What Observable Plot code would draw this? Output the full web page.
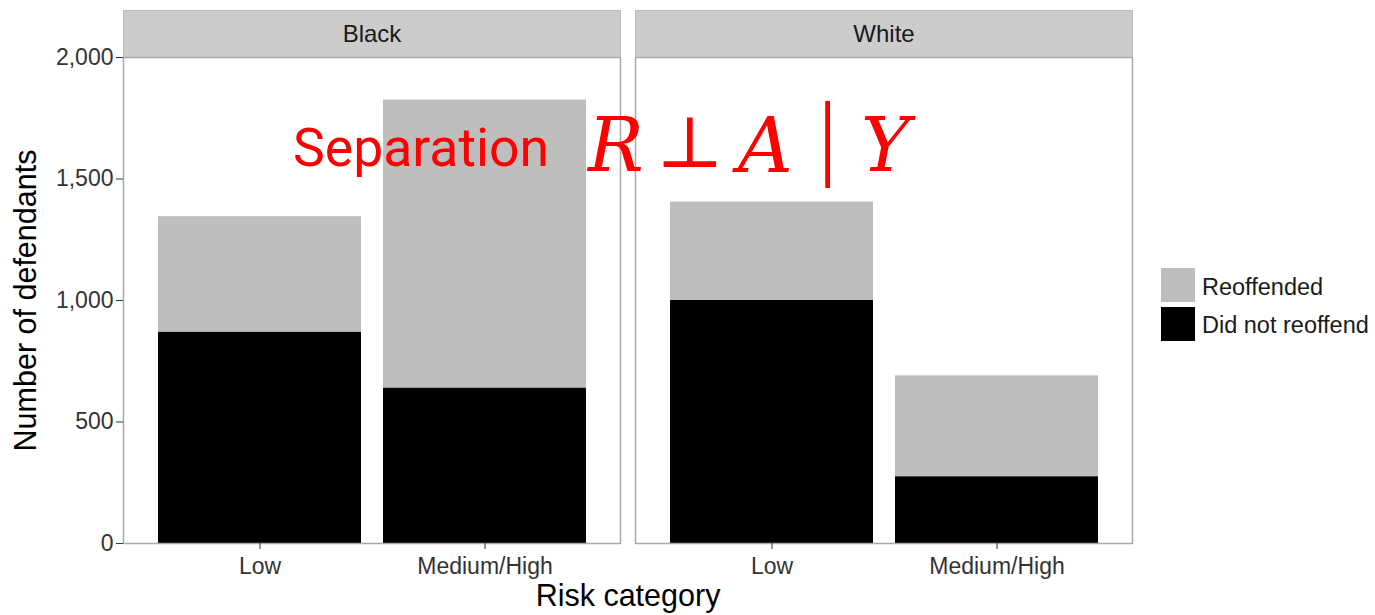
<!DOCTYPE html>
<html><head><meta charset="utf-8">
<script src="https://cdn.jsdelivr.net/npm/d3@7"></script>
<script src="https://cdn.jsdelivr.net/npm/@observablehq/plot@0.6"></script>
<style>
html,body{margin:0;padding:0;background:#fff;}
#wrap{position:relative;width:1375px;height:615px;overflow:hidden;font-family:"Liberation Sans",Arial,sans-serif;}
#chart svg{display:block;}
#chart g[aria-label="y-axis label"] text,#chart g[aria-label="x-axis label"] text{font-size:30.5px;fill:#000;}
.abs{position:absolute;white-space:pre;line-height:1;}
.key{position:absolute;width:34px;height:34px;}
.ltxt{position:absolute;font-size:23.5px;color:#1a1a1a;line-height:1;}
.math{position:absolute;line-height:1;color:#ff0000;font-family:"DejaVu Serif",serif;font-size:74px;white-space:pre;}
</style></head><body>
<div id="wrap">
<div id="chart"></div>
<div class="key" style="left:1161px;top:268px;background:#bebebe"></div>
<div class="ltxt" style="left:1202px;top:276px">Reoffended</div>
<div class="key" style="left:1161px;top:307px;background:#000"></div>
<div class="ltxt" style="left:1202px;top:314px">Did not reoffend</div>
<div class="abs" style="left:293px;top:121px;font-family:Roboto,sans-serif;font-size:53.5px;color:#ff0000">Separation</div>
<div class="math" style="left:588px;top:108px;font-style:italic">R</div>
<div class="math" style="left:656px;top:106px;font-size:72px">⊥</div>
<div class="math" style="left:738px;top:108px;font-style:italic;font-size:76px">A</div>
<div class="math" style="left:818px;top:88px;font-family:'Liberation Serif',serif;font-size:96px">|</div>
<div class="math" style="left:861px;top:108px;font-style:italic">Y</div>
</div>
<script>
const races = ["Black", "White"];
const riskCategories = ["Low", "Medium/High"];
const outcomes = ["Did not reoffend", "Reoffended"];
const outcomeColors = ["#000000", "#bebebe"];
const blackDidNotReoffend = [870, 640];
const blackReoffended = [475, 1185];
const whiteDidNotReoffend = [1000, 275];
const whiteReoffended = [405, 415];
const yTicks = [0, 500, 1000, 1500, 2000];

const rows = [];
riskCategories.forEach((risk, i) => {
  rows.push({race: "Black", risk, outcome: outcomes[0], count: blackDidNotReoffend[i]});
  rows.push({race: "Black", risk, outcome: outcomes[1], count: blackReoffended[i]});
  rows.push({race: "White", risk, outcome: outcomes[0], count: whiteDidNotReoffend[i]});
  rows.push({race: "White", risk, outcome: outcomes[1], count: whiteReoffended[i]});
});

const H = 615, MT = 57, MB = 72;
const chart = Plot.plot({
  width: 1375, height: H,
  marginLeft: 123, marginRight: 243, marginTop: MT, marginBottom: MB,
  style: {fontFamily: "Liberation Sans, Arial, sans-serif", fontSize: "23px", color: "#333", background: "transparent"},
  fx: {domain: races, paddingInner: 0.0293, paddingOuter: 0, axis: null, label: null},
  x: {domain: riskCategories, paddingInner: 0.1, paddingOuter: 0.15},
  y: {domain: [0, 2000]},
  color: {domain: outcomes, range: outcomeColors},
  marks: [
    Plot.frame({fill: "#cccccc", stroke: "#bdbdbd", insetTop: -47, insetBottom: H - MT - MB}),
    Plot.barY(rows, {fx: "race", x: "risk", y: "count", fill: "outcome", order: outcomes}),
    Plot.frame({stroke: "#a8a8a8", strokeWidth: 1.5}),
    Plot.text(races, {fx: d => d, text: d => d, frameAnchor: "top", lineAnchor: "middle", dy: -23, fontSize: 24, fill: "#1a1a1a"}),
    Plot.axisY({ticks: yTicks, tickFormat: d3.format(",d"), tickSize: 7, label: "Number of defendants", labelArrow: "none", labelAnchor: "center", labelOffset: 109}),
    Plot.axisX({tickSize: 6, tickPadding: 8, label: "Risk category", labelArrow: "none", labelAnchor: "center", labelOffset: 62})
  ]
});
chart.querySelectorAll('g[aria-label$="axis label"] text').forEach(t => {
  t.textContent = t.textContent.replace(/[\u2191\u2192\u2190\u2193]/g, "").trim();
});
document.getElementById("chart").appendChild(chart);
</script>
</body></html>
